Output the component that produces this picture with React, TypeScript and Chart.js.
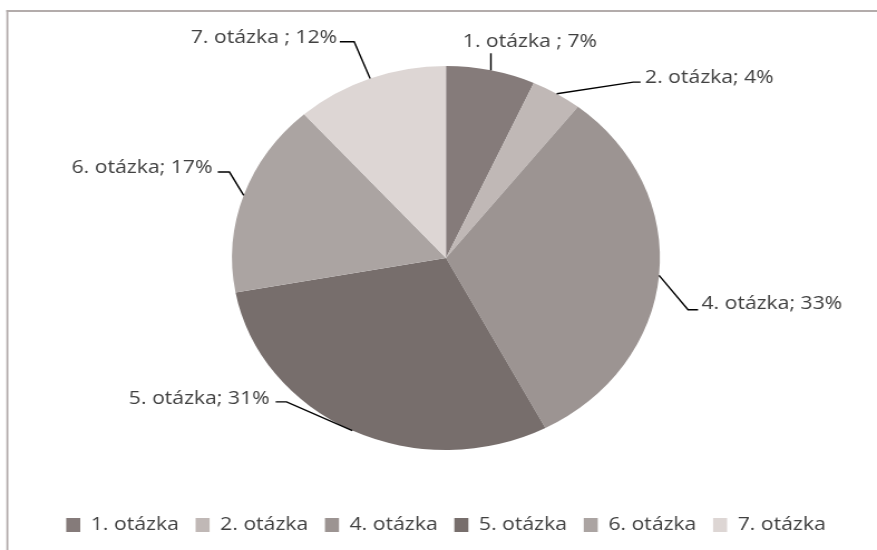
import React, { useEffect, useRef } from 'react';
import { Chart, registerables } from 'chart.js';

Chart.register(...registerables);

// ---- data ----
const categories = ['1. otázka', '2. otázka', '4. otázka', '5. otázka', '6. otázka', '7. otázka'];
const values = [7, 4, 33, 31, 17, 12];
const separators = [' ; ', '; ', '; ', '; ', '; ', ' ; '];
const sliceColors = ['#857b7a', '#c0b8b6', '#9c9492', '#776e6c', '#aba4a2', '#ddd6d4'];

// ---- layout / style ----
const CANVAS_W = 787;
const CANVAS_H = 550;
const STRETCH = 877 / CANVAS_W;
const TEXT_COLOR = '#404040';
const FONT_FAMILY = "'Open Sans'";

// leader-line layout, relative to the slice's mid-angle point on the rim
const labelLayout = [
  { ex: 0, ey: -17, tail: 0, tx: 35, ty: -11.3, align: 'center' },
  { ex: 68.8, ey: -11.6, tail: 6.5, tx: 4, ty: -4.4, align: 'left' },
  { ex: 26, ey: 34.3, tail: 9, tx: 3, ty: -6.3, align: 'left' },
  { ex: -59, ey: -28.7, tail: -9.8, tx: -5.4, ty: -3, align: 'right' },
  { ex: -12.8, ey: -23.3, tail: -10.5, tx: -4.8, ty: -4.7, align: 'right' },
  { ex: -14.3, ey: -36.7, tail: -12.9, tx: -2.4, ty: -4.3, align: 'right' },
];

const framePlugin = {
  id: 'frame',
  beforeDraw(chart: any) {
    const ctx = chart.ctx;
    ctx.save();
    ctx.fillStyle = '#b3acab';
    ctx.fillRect(5.7, 10, chart.width, 2);
    ctx.fillRect(5.7, 10, 1.8, chart.height);
    ctx.restore();
  },
};

const leaderPlugin = {
  id: 'leaderLabels',
  afterDatasetsDraw(chart: any) {
    const ctx = chart.ctx;
    const meta = chart.getDatasetMeta(0);
    const data = chart.data.datasets[0].data;
    ctx.save();
    ctx.strokeStyle = '#000000';
    ctx.lineWidth = 1.4;
    ctx.font = `19px ${FONT_FAMILY}`;
    ctx.fillStyle = TEXT_COLOR;
    ctx.textBaseline = 'middle';
    meta.data.forEach((arc: any, i: number) => {
      const { x, y, startAngle, endAngle, outerRadius } = arc.getProps(
        ['x', 'y', 'startAngle', 'endAngle', 'outerRadius'],
        true
      );
      const mid = (startAngle + endAngle) / 2;
      const ax = x + outerRadius * Math.cos(mid);
      const ay = y + outerRadius * Math.sin(mid);
      const L = labelLayout[i];
      const ex = ax + L.ex;
      const ey = ay + L.ey;
      const tx = ex + L.tail;
      ctx.beginPath();
      ctx.moveTo(ax, ay);
      ctx.lineTo(ex, ey);
      if (L.tail) ctx.lineTo(tx, ey);
      ctx.stroke();
      ctx.textAlign = L.align;
      const text = `${chart.data.labels[i]}${separators[i]}${data[i]}%`;
      ctx.fillText(text, tx + L.tx, ey + L.ty);
    });
    ctx.restore();
  },
};

export default function App() {
  const canvasRef = useRef<HTMLCanvasElement | null>(null);

  useEffect(() => {
    if (!canvasRef.current) return;
    const chart = new Chart(canvasRef.current, {
      type: 'pie',
      data: {
        labels: categories,
        datasets: [
          {
            data: values,
            backgroundColor: sliceColors,
            borderWidth: 0,
            radius: 192,
          } as any,
        ],
      },
      options: {
        responsive: true,
        maintainAspectRatio: false,
        animation: false,
        layout: { padding: { top: 15.5, left: 13.4, right: 0, bottom: 5.5 } },
        plugins: {
          legend: {
            position: 'bottom',
            labels: {
              boxWidth: 12.6,
              boxHeight: 14,
              padding: 15,
              color: TEXT_COLOR,
              font: { family: FONT_FAMILY, size: 19 },
            },
          },
          tooltip: { enabled: false },
        },
      },
      plugins: [framePlugin, leaderPlugin],
    });
    return () => chart.destroy();
  }, []);

  return (
    <div
      style={{
        position: 'absolute',
        left: 0,
        top: 0,
        width: 877,
        height: 550,
        overflow: 'hidden',
        background: '#ffffff',
      }}
    >
      <div
        style={{
          position: 'relative',
          width: CANVAS_W,
          height: CANVAS_H,
          transform: `scaleX(${STRETCH})`,
          transformOrigin: '0 0',
        }}
      >
        <canvas ref={canvasRef} />
      </div>
    </div>
  );
}
